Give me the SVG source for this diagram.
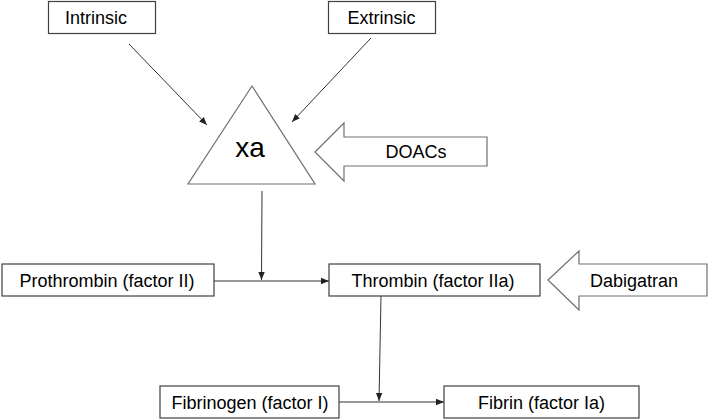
<svg xmlns="http://www.w3.org/2000/svg" width="709" height="420" viewBox="0 0 709 420">
<defs>
<style>
.box{fill:#fff;stroke:#404040;stroke-width:1.2}
.shape{fill:#fff;stroke:#707070;stroke-width:1.2}
.lbl{font-family:"Liberation Sans",Arial,sans-serif;font-size:18px;fill:#000;text-anchor:middle}
.con{stroke:#333;stroke-width:1;fill:none;marker-end:url(#ah)}
</style>
<marker id="ah" viewBox="0 0 10 10" refX="10" refY="5" markerWidth="8" markerHeight="8" markerUnits="userSpaceOnUse" orient="auto">
<path d="M0,1 L10,5 L0,9 z" fill="#222"/>
</marker>
</defs>
<rect width="709" height="420" fill="#fff"/>
<g id="connectors">
<line class="con" x1="129" y1="44" x2="207" y2="125"/>
<line class="con" x1="371" y1="38" x2="292" y2="122"/>
<line class="con" x1="262" y1="191" x2="261.5" y2="280"/>
<line class="con" x1="214" y1="281" x2="329" y2="281"/>
<line class="con" x1="381" y1="296" x2="379" y2="401"/>
<line class="con" x1="339" y1="402" x2="444" y2="402"/>
</g>
<g id="intrinsic"><rect class="box" x="48.5" y="1.5" width="107" height="32"/><text class="lbl" x="96" y="24">Intrinsic</text></g>
<g id="extrinsic"><rect class="box" x="328.5" y="1.5" width="107" height="32"/><text class="lbl" x="381.5" y="24">Extrinsic</text></g>
<g id="xa"><polygon class="shape" points="252,86 188,184 315,184"/><text x="250" y="157" font-family="Liberation Sans,Arial,sans-serif" font-size="28" text-anchor="middle">xa</text></g>
<g id="doacs"><polygon class="shape" points="315,152 344,123 344,137 487,137 487,166 344,166 344,181"/><text class="lbl" x="416" y="158">DOACs</text></g>
<g id="prothrombin"><rect class="box" x="2" y="264" width="212" height="32"/><text class="lbl" x="107" y="287">Prothrombin (factor II)</text></g>
<g id="thrombin"><rect class="box" x="329" y="264" width="211" height="32"/><text class="lbl" x="433" y="287">Thrombin (factor IIa)</text></g>
<g id="dabigatran"><polygon class="shape" points="548,280 579,251 579,264 707,264 707,296 579,296 579,310"/><text class="lbl" x="634" y="287">Dabigatran</text></g>
<g id="fibrinogen"><rect class="box" x="160" y="386" width="179" height="32"/><text class="lbl" x="250" y="409">Fibrinogen (factor I)</text></g>
<g id="fibrin"><rect class="box" x="444" y="386" width="195" height="32"/><text class="lbl" x="541.5" y="409">Fibrin (factor Ia)</text></g>
</svg>
